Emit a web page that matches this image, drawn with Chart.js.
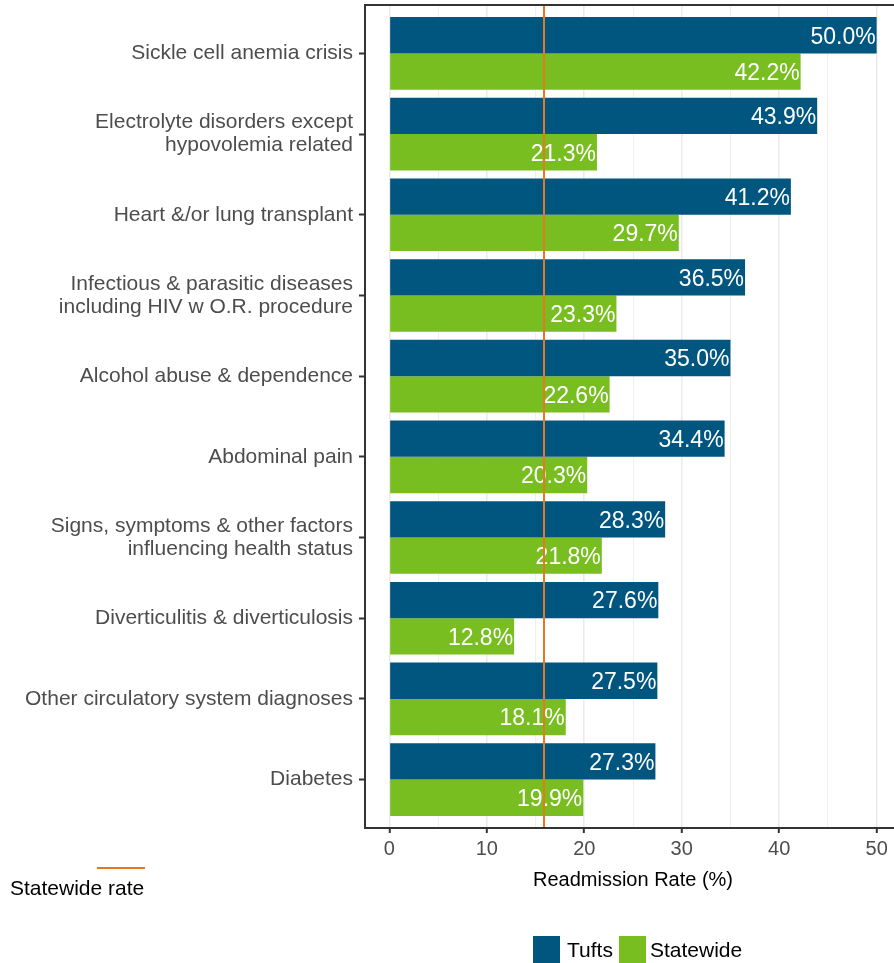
<!DOCTYPE html>
<html>
<head>
<meta charset="utf-8">
<title>Readmission Rate</title>
<script src="https://cdn.jsdelivr.net/npm/chart.js@4"></script>
<style>
  html, body { margin: 0; padding: 0; background: #fff; overflow: hidden; }
  #wrap { width: 894px; height: 963px; overflow: hidden; position: relative; }
  #box { width: 904px; height: 963px; }
</style>
</head>
<body>
<div id="wrap"><div id="box"><canvas id="chart"></canvas></div></div>
<script>
// --- Data ---
const categories = [
    ['Sickle cell anemia crisis'],
    ['Electrolyte disorders except', 'hypovolemia related'],
    ['Heart &/or lung transplant'],
    ['Infectious & parasitic diseases', 'including HIV w O.R. procedure'],
    ['Alcohol abuse & dependence'],
    ['Abdominal pain'],
    ['Signs, symptoms & other factors', 'influencing health status'],
    ['Diverticulitis & diverticulosis'],
    ['Other circulatory system diagnoses'],
    ['Diabetes']
];
const tuftsRates = [50.0, 43.9, 41.2, 36.5, 35.0, 34.4, 28.3, 27.6, 27.5, 27.3];
const statewideRates = [42.2, 21.3, 29.7, 23.3, 22.6, 20.3, 21.8, 12.8, 18.1, 19.9];
const statewideRate = 15.9;
const xTickValues = [0, 5, 10, 15, 20, 25, 30, 35, 40, 45, 50];
const xTickLabels = ['0', '', '10', '', '20', '', '30', '', '40', '', '50'];

// --- Styles ---
const TUFTS_COLOR = '#00567f';
const STATE_COLOR = '#78be20';
const LINE_COLOR = '#e87722';
const FONT = '"Liberation Sans", Arial, Helvetica, sans-serif';

function toPoints(values) {
    return values.map((v, i) => ({ x: v, y: i }));
}

// Frame, value labels, statewide line and legends
const decorPlugin = {
    id: 'decor',
    afterDatasetsDraw(chart) {
        const ctx = chart.ctx;
        const area = chart.chartArea;
        const xScale = chart.scales.x;

        // value labels inside bar ends
        ctx.save();
        ctx.font = '23px ' + FONT;
        ctx.fillStyle = '#ffffff';
        ctx.textAlign = 'right';
        ctx.textBaseline = 'middle';
        chart.data.datasets.forEach((ds, di) => {
            const meta = chart.getDatasetMeta(di);
            meta.data.forEach((bar, i) => {
                ctx.fillText(ds.data[i].x.toFixed(1) + '%', bar.x - 1, bar.y + 2);
            });
        });
        ctx.restore();

        // statewide rate line
        const lx = Math.round(xScale.getPixelForValue(statewideRate));
        ctx.save();
        ctx.strokeStyle = LINE_COLOR;
        ctx.lineWidth = 2;
        ctx.beginPath();
        ctx.moveTo(lx, area.top);
        ctx.lineTo(lx, area.bottom);
        ctx.stroke();
        ctx.restore();
    },
    afterDraw(chart) {
        const ctx = chart.ctx;
        const area = chart.chartArea;

        // panel border
        ctx.save();
        ctx.strokeStyle = '#333333';
        ctx.lineWidth = 2;
        ctx.strokeRect(Math.round(area.left), Math.round(area.top),
            Math.round(area.right - area.left), Math.round(area.bottom - area.top));
        ctx.restore();

        // statewide rate legend (left)
        ctx.save();
        ctx.strokeStyle = LINE_COLOR;
        ctx.lineWidth = 2;
        ctx.beginPath();
        ctx.moveTo(97, 868);
        ctx.lineTo(145, 868);
        ctx.stroke();
        ctx.font = '21px ' + FONT;
        ctx.fillStyle = '#000000';
        ctx.textAlign = 'left';
        ctx.textBaseline = 'middle';
        ctx.fillText('Statewide rate', 10, 889);
        ctx.restore();

        // series legend (bottom)
        ctx.save();
        ctx.font = '21px ' + FONT;
        ctx.fillStyle = TUFTS_COLOR;
        ctx.fillRect(533, 936, 27, 28);
        ctx.fillStyle = STATE_COLOR;
        ctx.fillRect(619, 936, 27, 28);
        ctx.fillStyle = '#000000';
        ctx.textBaseline = 'middle';
        ctx.fillText('Tufts', 567, 951);
        ctx.fillText('Statewide', 650, 951);
        ctx.restore();
    }
};

const ctx = document.getElementById('chart').getContext('2d');
new Chart(ctx, {
    type: 'bar',
    data: {
        datasets: [
            {
                label: 'Tufts',
                data: toPoints(tuftsRates),
                backgroundColor: TUFTS_COLOR,
                borderWidth: 0,
                categoryPercentage: 0.9,
                barPercentage: 1.0
            },
            {
                label: 'Statewide',
                data: toPoints(statewideRates),
                backgroundColor: STATE_COLOR,
                borderWidth: 0,
                categoryPercentage: 0.9,
                barPercentage: 1.0
            }
        ]
    },
    options: {
        indexAxis: 'y',
        responsive: true,
        maintainAspectRatio: false,
        animation: false,
        layout: { padding: { top: 5, right: 3, bottom: 0, left: 0 } },
        plugins: {
            legend: { display: false },
            tooltip: { enabled: false }
        },
        scales: {
            x: {
                type: 'linear',
                min: -2.5,
                max: 52.5,
                afterBuildTicks: (scale) => { scale.ticks = xTickValues.map(v => ({ value: v })); },
                afterFit: (scale) => {
                    scale.height = 135;
                    scale.paddingLeft = 0;
                    scale.paddingRight = 0;
                },
                border: { display: false },
                grid: {
                    color: '#ebebeb',
                    lineWidth: (c) => (c.tick && c.tick.value % 10 === 0 ? 1.6 : 0.8),
                    tickColor: (c) => (c.tick && c.tick.value % 10 === 0 ? '#333333' : 'rgba(0,0,0,0)'),
                    tickLength: 5,
                    tickWidth: 2
                },
                ticks: {
                    autoSkip: false,
                    maxRotation: 0,
                    padding: 4,
                    color: '#4d4d4d',
                    font: { family: FONT, size: 20 },
                    callback: (v, i) => xTickLabels[i]
                },
                title: {
                    display: true,
                    text: 'Readmission Rate (%)',
                    color: '#000000',
                    font: { family: FONT, size: 20 },
                    padding: { top: 4, bottom: 71 }
                }
            },
            y: {
                type: 'linear',
                reverse: true,
                offset: false,
                min: -0.6,
                max: 9.6,
                afterBuildTicks: (scale) => { scale.ticks = categories.map((c, i) => ({ value: i })); },
                afterFit: (scale) => {
                    scale.width = 365;
                    scale.paddingTop = 0;
                    scale.paddingBottom = 0;
                },
                border: { display: false },
                grid: {
                    offset: false,
                    drawOnChartArea: false,
                    drawTicks: true,
                    tickLength: 6,
                    tickWidth: 2,
                    tickColor: '#333333'
                },
                ticks: {
                    autoSkip: false,
                    padding: 6,
                    color: '#4d4d4d',
                    font: { family: FONT, size: 21, lineHeight: 1.1 },
                    callback: (v) => categories[v]
                }
            }
        }
    },
    plugins: [decorPlugin]
});
</script>
</body>
</html>
